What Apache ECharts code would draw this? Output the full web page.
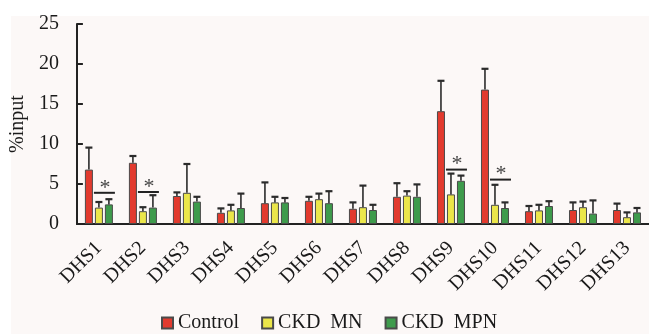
<!DOCTYPE html>
<html><head><meta charset="utf-8">
<script src="https://cdn.jsdelivr.net/npm/echarts@6/dist/echarts.min.js"></script>
<style>html,body{margin:0;padding:0;background:#fff;}#c{width:649px;height:334px;}</style>
</head><body><div id="c"></div>
<script>
const categories = ['DHS1','DHS2','DHS3','DHS4','DHS5','DHS6','DHS7','DHS8','DHS9','DHS10','DHS11','DHS12','DHS13'];
const seriesNames = ['Control', 'CKD  MN', 'CKD  MPN'];
const controlMean = [6.8, 7.65, 3.5, 1.4, 2.6, 2.9, 1.9, 3.4, 14.1, 16.8, 1.6, 1.75, 1.75];
const controlErr  = [2.75, 0.85, 0.45, 0.55, 2.6, 0.5, 0.8, 1.7, 3.8, 2.6, 0.65, 0.95, 0.8];
const mnMean = [2.05, 1.6, 3.9, 1.7, 2.7, 3.1, 2.1, 3.55, 3.7, 2.4, 1.7, 2.1, 0.85];
const mnErr  = [0.7, 0.5, 3.6, 0.7, 0.7, 0.7, 2.7, 0.55, 2.6, 2.5, 0.7, 0.7, 0.6];
const mpnMean = [2.45, 2.05, 2.8, 2.0, 2.7, 2.6, 1.75, 3.4, 5.4, 2.0, 2.25, 1.3, 1.45];
const mpnErr  = [0.65, 1.55, 0.6, 1.8, 0.55, 1.5, 0.65, 1.55, 0.65, 0.7, 0.6, 1.65, 0.55];
const sigCategories = ['DHS1', 'DHS2', 'DHS9', 'DHS10'];
const sigLevel = [3.9, 4.0, 6.8, 5.55];
const yTicks = [0, 5, 10, 15, 20, 25];

const colors = ['#e23a2e', '#ebe64a', '#3e9b4c'];
const means = [controlMean, mnMean, mpnMean];
const errs = [controlErr, mnErr, mpnErr];
const FONT = 'Liberation Serif';
const BAR_W = 8, BAR_GAP = 2;

const chart = echarts.init(document.getElementById('c'));

const barSeries = means.map((m, i) => ({
  name: seriesNames[i], type: 'bar', data: m, barWidth: BAR_W, barGap: '25%',
  itemStyle: { color: colors[i], borderColor: '#4a4a4a', borderWidth: 1 },
  z: 2
}));

const errSeries = means.map((m, i) => ({
  type: 'custom', name: 'err' + i,
  data: m.map((v, k) => [k, v, v + errs[i][k]]),
  encode: { x: 0, y: [1, 2] },
  renderItem: function (params, api) {
    const base = api.coord([api.value(0), api.value(1)]);
    const top = api.coord([api.value(0), api.value(2)]);
    const x = base[0] + (i - 1) * (BAR_W + BAR_GAP);
    const style = { stroke: '#2b2b2b', lineWidth: 1.6 };
    return { type: 'group', children: [
      { type: 'line', shape: { x1: x, y1: base[1], x2: x, y2: top[1] }, style: style },
      { type: 'line', shape: { x1: x - 3.5, y1: top[1], x2: x + 3.5, y2: top[1] }, style: { stroke: '#2b2b2b', lineWidth: 2.2 } }
    ]};
  },
  z: 3, silent: true
}));

const sigSeries = {
  type: 'custom', name: 'sig',
  data: sigCategories.map((c, k) => [categories.indexOf(c), sigLevel[k]]),
  encode: { x: 0, y: 1 },
  renderItem: function (params, api) {
    const p = api.coord([api.value(0), api.value(1)]);
    return { type: 'group', children: [
      { type: 'line', shape: { x1: p[0] - 5, y1: p[1], x2: p[0] + 16, y2: p[1] }, style: { stroke: '#222', lineWidth: 2 } },
      { type: 'text', style: { x: p[0] + 6, y: p[1] - 5, text: '*', font: '22px ' + FONT, fill: '#444', align: 'center', verticalAlign: 'middle' } }
    ]};
  },
  z: 4, silent: true
};

chart.setOption({
  animation: false,
  backgroundColor: '#ffffff',
  graphic: [{ type: 'rect', left: 11, top: 16, shape: { width: 640, height: 320 }, style: { fill: '#fcf8f7' }, z: -10 }],
  grid: { left: 73, top: 24, width: 577, height: 200 },
  legend: {
    data: seriesNames, left: 161, top: 313, padding: 0, itemWidth: 11, itemHeight: 11, itemGap: 22,
    icon: 'rect',
    textStyle: { fontFamily: FONT, fontSize: 20, color: '#1a1a1a' }
  },
  xAxis: {
    type: 'category', data: categories,
    axisLine: { lineStyle: { color: '#222', width: 2 } },
    axisTick: { inside: true, length: 6, lineStyle: { color: '#222', width: 2 } },
    axisLabel: { interval: 0, rotate: 45, fontFamily: FONT, fontSize: 20, color: '#1a1a1a', margin: 21 }
  },
  yAxis: {
    type: 'value', min: yTicks[0], max: yTicks[yTicks.length - 1], interval: 5,
    name: '%input', nameLocation: 'middle', nameGap: 44, nameRotate: 90,
    nameTextStyle: { fontFamily: FONT, fontSize: 20, color: '#1a1a1a' },
    splitLine: { show: false },
    axisLine: { show: true, lineStyle: { color: '#222', width: 2 } },
    axisTick: { show: true, inside: true, length: 6, lineStyle: { color: '#222', width: 2 } },
    axisLabel: { fontFamily: FONT, fontSize: 20, color: '#1a1a1a', margin: 18 }
  },
  series: [...barSeries, ...errSeries, sigSeries]
});
</script></body></html>
